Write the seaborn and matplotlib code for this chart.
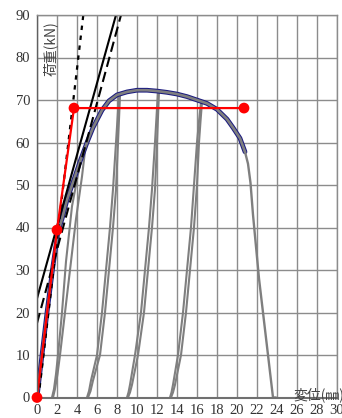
import matplotlib
matplotlib.use("Agg")
import matplotlib.pyplot as plt
import seaborn as sns

# ---- data ----
env_x = [0.0, 1.0, 1.6, 2.1, 2.5, 3.0, 3.8, 4.3, 5.0, 5.6, 6.5, 7.2, 8.0, 9.0, 10.0, 11.0, 12.0, 13.0, 14.0, 15.0, 16.0, 17.0, 18.0, 19.0, 19.6, 20.3, 20.8]
env_y = [0.0, 20.0, 31.0, 39.0, 42.0, 46.5, 52.0, 55.5, 60.0, 63.5, 67.6, 69.8, 71.2, 71.9, 72.3, 72.3, 72.1, 71.8, 71.4, 70.8, 70.0, 69.2, 67.8, 65.5, 63.5, 61.0, 57.8]
desc_x = [20.8, 21.1, 21.35, 21.6, 22.2, 23.6, 23.9]
desc_y = [57.8, 55.0, 50.5, 43.0, 28.0, 0.0, 0.0]

loop1_ax = [1.5, 1.7, 1.9, 2.1, 2.3, 2.5, 2.7, 2.9, 3.2, 3.5, 3.9, 4.3, 4.6, 4.9]
loop1_ay = [0, 2, 5.5, 10, 15, 20, 26, 32, 38.5, 45, 50, 55, 57.5, 60]
loop1_bx = [1.6, 1.8, 2.05, 2.3, 2.55, 2.8, 3.1, 3.4, 3.65, 3.9, 4.2, 4.5, 4.7, 4.9]
loop1_by = [0, 2, 5.5, 10, 15, 20, 26, 32, 37, 42, 47, 52, 56, 60]

loop2_ax = [5.0, 5.2, 5.4, 5.7, 6.0, 6.25, 6.5, 6.7, 6.9, 7.1, 7.3, 7.45, 7.6, 7.75, 7.9, 8.05, 8.2]
loop2_ay = [0, 1.5, 4, 7, 10, 15, 20, 25, 30, 35, 40, 44.5, 49, 54.5, 60, 65.5, 71]
loop2_bx = [5.1, 5.35, 5.6, 5.95, 6.3, 6.55, 6.8, 7.0, 7.2, 7.4, 7.6, 7.75, 7.9, 8.0, 8.1, 8.2, 8.3]
loop2_by = [0, 1.5, 4, 7, 10, 15, 20, 25, 30, 35, 40, 44.5, 49, 54.5, 60, 65.5, 71]

loop3_ax = [9.0, 9.15, 9.3, 9.55, 9.8, 10.1, 10.4, 10.6, 10.8, 11.0, 11.2, 11.35, 11.5, 11.65, 11.8, 11.95, 12.1]
loop3_ay = [0, 1.2, 3, 6.5, 10, 15, 20, 25, 30, 35, 40, 44.5, 49, 54.5, 60, 66, 72]
loop3_bx = [9.1, 9.3, 9.5, 9.8, 10.1, 10.4, 10.7, 10.9, 11.1, 11.3, 11.5, 11.65, 11.8, 11.9, 12.0, 12.1, 12.2]
loop3_by = [0, 1.2, 3, 6.5, 10, 15, 20, 25, 30, 35, 40, 44.5, 49, 54.5, 60, 66, 72]

loop4_ax = [13.3, 13.45, 13.6, 13.85, 14.1, 14.35, 14.6, 14.8, 15.0, 15.2, 15.4, 15.55, 15.7, 15.85, 16.0, 16.2, 16.4]
loop4_ay = [0, 1.2, 3, 6.5, 10, 15, 20, 25, 30, 35, 40, 45, 50, 55, 60, 65, 69.5]
loop4_bx = [13.4, 13.6, 13.8, 14.1, 14.4, 14.65, 14.9, 15.1, 15.3, 15.5, 15.7, 15.85, 16.0, 16.1, 16.2, 16.35, 16.5]
loop4_by = [0, 1.2, 3, 6.5, 10, 15, 20, 25, 30, 35, 40, 45, 50, 55, 60, 65, 69.5]

red_x = [0.0, 2.0, 3.7, 20.7]
red_y = [0.0, 39.4, 68.1, 68.1]

solid_x = [0.0, 7.9]
solid_y = [23.3, 90.0]
dash_x = [0.0, 8.4]
dash_y = [17.5, 90.0]
dot_x = [0.15, 4.63]
dot_y = [0.0, 90.0]

xticks = list(range(0, 31, 2))
yticks = list(range(0, 91, 10))

# ---- figure ----
sns.set_theme(style="white")
plt.rcParams['font.family'] = ['Liberation Serif', 'DejaVu Serif']

W, H = 342, 418
fig = plt.figure(figsize=(W / 100, H / 100), dpi=100)
left, right, top, bottom = 37, 337, 15, 397.5
ax = fig.add_axes([left / W, (H - bottom) / H, (right - left) / W, (bottom - top) / H])

ax.set_xlim(0, 30)
ax.set_ylim(0, 90)
ax.set_xticks(xticks)
ax.set_yticks(yticks)
ax.tick_params(axis='both', length=0, labelsize=10.5, colors='#333333', pad=5)
ax.grid(True, color='#8c8c8c', lw=1.0)
for s in ax.spines.values():
    s.set_color('#8c8c8c')
    s.set_linewidth(1.0)
ax.spines['left'].set_color('#606060')
ax.spines['bottom'].set_color('#707070')
ax.spines['bottom'].set_linewidth(1.5)

kw = dict(sort=False, estimator=None, ax=ax, legend=False)
gray = '#7f7f7f'

# unloading/reloading loops
for lx, ly in [(loop1_ax, loop1_ay), (loop1_bx, loop1_by),
               (loop2_ax, loop2_ay), (loop2_bx, loop2_by),
               (loop3_ax, loop3_ay), (loop3_bx, loop3_by),
               (loop4_ax, loop4_ay), (loop4_bx, loop4_by)]:
    sns.lineplot(x=lx, y=ly, color=gray, lw=1.5, **kw)

# envelope: navy outline with gray core
sns.lineplot(x=env_x, y=env_y, color='#1c1c80', lw=3.4, **kw)
sns.lineplot(x=env_x, y=env_y, color=gray, lw=1.9, **kw)
sns.lineplot(x=desc_x, y=desc_y, color=gray, lw=1.7, **kw)

# black reference lines
sns.lineplot(x=solid_x, y=solid_y, color='black', lw=1.5, **kw)
sns.lineplot(x=dash_x, y=dash_y, color='black', lw=1.5, linestyle=(0, (5, 2.5)), **kw)
sns.lineplot(x=dot_x, y=dot_y, color='black', lw=1.6, linestyle=(0, (2, 2.5)), **kw)

# red bilinear model
sns.lineplot(x=red_x, y=red_y, color='#ff0000', lw=1.6, **kw)
sns.scatterplot(x=red_x, y=red_y, color='#ff0000', s=60, edgecolor='none', ax=ax, zorder=5, clip_on=False)

# axis titles
ax.text(1.3, 88.6, '荷重(kN)', rotation=90, ha='center', va='top', fontsize=10,
        color='#444444', family=['Noto Sans CJK JP', 'DejaVu Sans'])
ax.text(25.6, 0.7, '変位(㎜)', ha='left', va='center', fontsize=10,
        color='#444444', family=['Noto Sans CJK JP', 'DejaVu Sans'], clip_on=False)

fig.savefig('out.png', dpi=100)
